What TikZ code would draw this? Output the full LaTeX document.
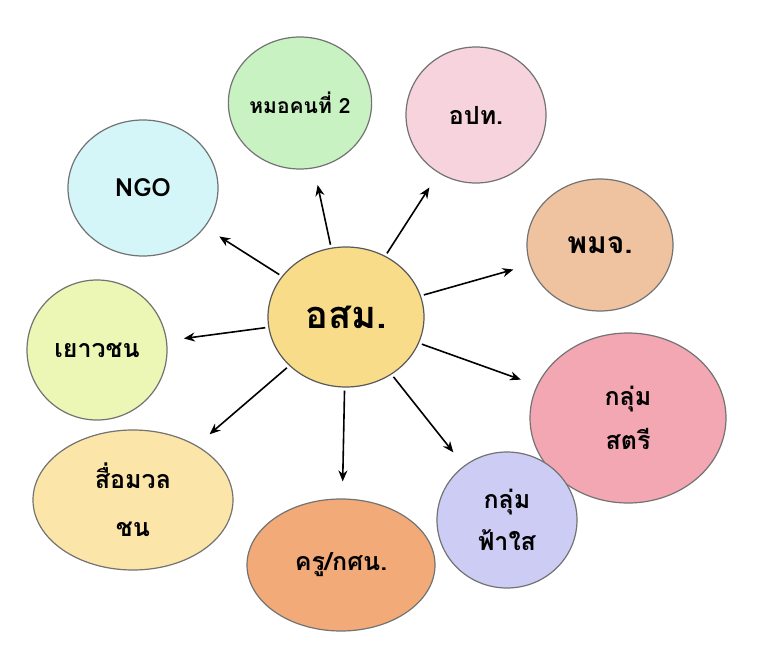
\documentclass[tikz,border=0pt]{standalone}
\usepackage{fontspec}
\newfontfamily\thaifont[Script=Thai]{Loma}
\usetikzlibrary{shapes.geometric,arrows.meta}
\definecolor{cC}{HTML}{F9DC8A}
\definecolor{cA}{HTML}{C9F2C2}
\definecolor{cB}{HTML}{F7D3DE}
\definecolor{cN}{HTML}{D4F6F8}
\definecolor{cP}{HTML}{F0C3A0}
\definecolor{cY}{HTML}{ECF7B5}
\definecolor{cS}{HTML}{F2A7B3}
\definecolor{cM}{HTML}{FCE5A8}
\definecolor{cK}{HTML}{F2AA78}
\definecolor{cF}{HTML}{CDCCF5}
\tikzset{
 bub/.style={ellipse,draw=black!55,line width=1.2pt,inner sep=0pt,align=center,
   font=\thaifont\bfseries\fontsize{25}{30}\selectfont},
 arr/.style={-{Stealth[length=11pt,width=9pt]},line width=1.6pt,shorten <=3pt,shorten >=17pt}
}
\begin{document}
\begin{tikzpicture}[x=1pt,y=-1pt]
\useasboundingbox[fill=white] (0,0) rectangle (768,647);
\node[bub,fill=cC,draw=black!65,minimum width=156pt,minimum height=140pt,font=\thaifont\bfseries\fontsize{38}{44}\selectfont] (c) at (346,317) {อสม.};
\node[bub,fill=cA,minimum width=136pt,minimum height=132pt,font=\thaifont\bfseries\fontsize{21}{26}\selectfont] (a) at (300,103) {หมอคนที่ 2};
\node[bub,fill=cB,minimum width=140pt,minimum height=136pt] (b) at (476,115) {อปท.};
\node[bub,fill=cN,minimum width=150pt,minimum height=136pt] (n) at (143,188) {NGO};
\node[bub,fill=cP,minimum width=146pt,minimum height=132pt,font=\thaifont\bfseries\fontsize{30}{36}\selectfont] (p) at (600,245) {พมจ.};
\node[bub,fill=cY,minimum width=140pt,minimum height=140pt] (y) at (97,350) {เยาวชน};
\node[bub,fill=cS,minimum width=196pt,minimum height=170pt,font=\thaifont\bfseries\fontsize{25}{44}\selectfont] (s) at (628,418) {กลุ่ม\\สตรี};
\node[bub,fill=cM,minimum width=200pt,minimum height=140pt,font=\thaifont\bfseries\fontsize{25}{48}\selectfont] (m) at (133,500) {สื่อมวล\\ชน};
\node[bub,fill=cK,minimum width=188pt,minimum height=132pt] (k) at (341,565) {ครู/กศน.};
\node[bub,fill=cF,minimum width=140pt,minimum height=136pt,font=\thaifont\bfseries\fontsize{25}{42}\selectfont] (f) at (507,520) {กลุ่ม\\ฟ้าใส};
\foreach \t in {a,b,n,p,y,s,m,k,f} \draw[arr] (c) -- (\t);
\end{tikzpicture}
\end{document}
